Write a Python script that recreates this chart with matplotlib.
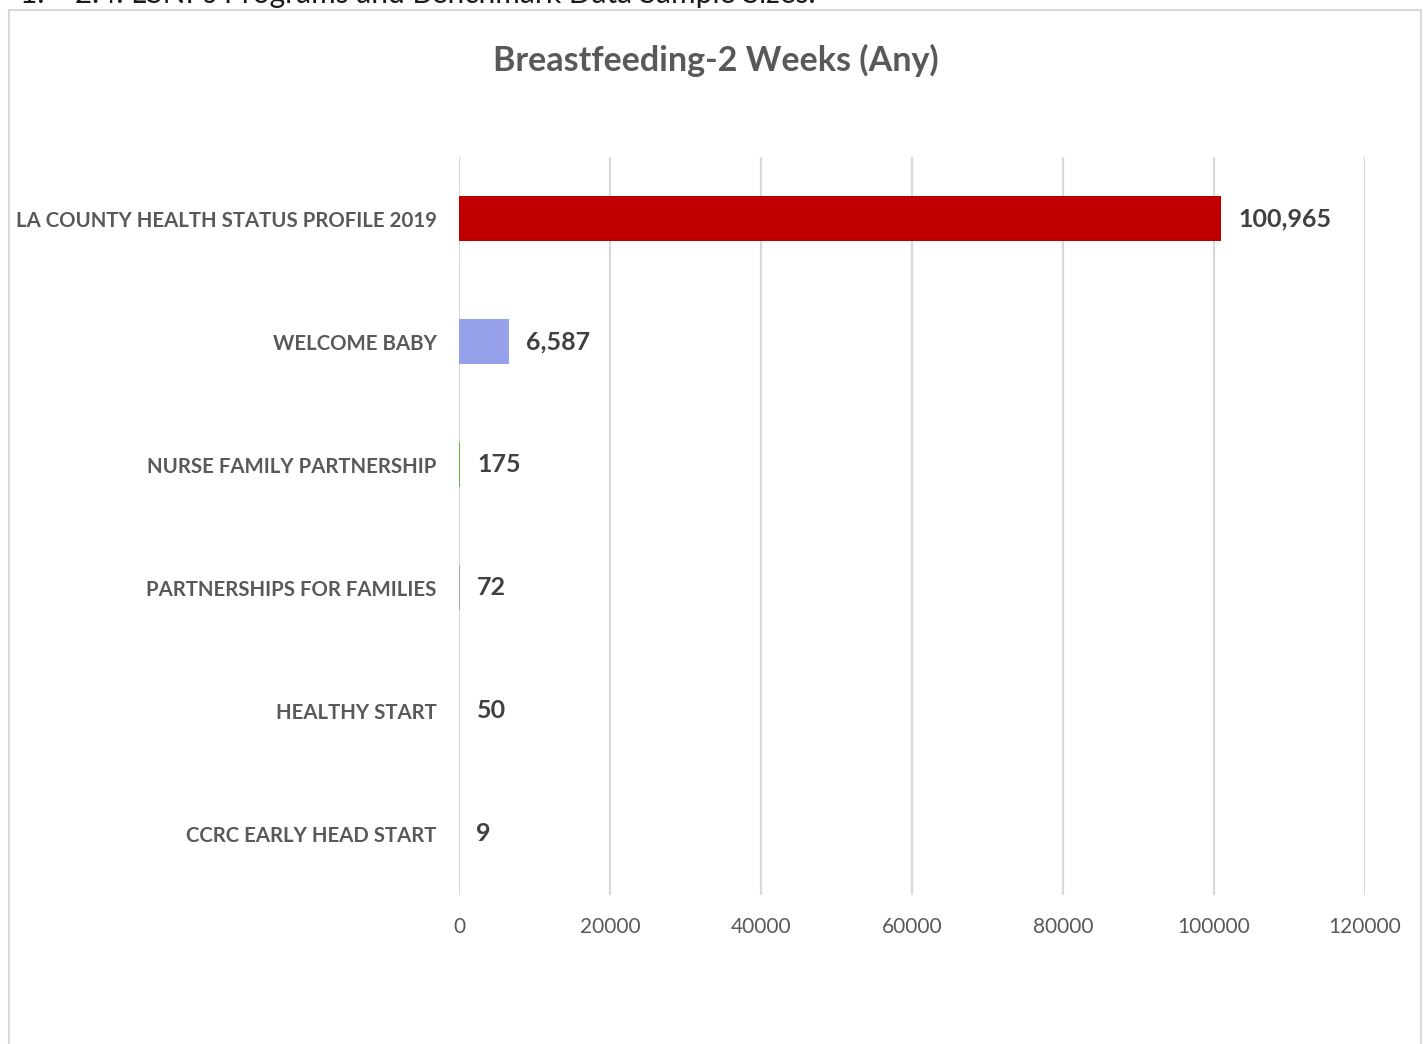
import matplotlib.pyplot as plt
from matplotlib.patches import Rectangle

categories = ["LA COUNTY HEALTH STATUS PROFILE 2019", "WELCOME BABY",
              "NURSE FAMILY PARTNERSHIP", "PARTNERSHIPS FOR FAMILIES",
              "HEALTHY START", "CCRC EARLY HEAD START"]
values = [100965, 6587, 175, 72, 50, 9]
bar_colors = ["#C00000", "#97A0EA", "#70AD47", "#A5A5A5", "#FFC000", "#5B9BD5"]
xticks = [0, 20000, 40000, 60000, 80000, 100000, 120000]

plt.rcParams['font.family'] = ['Lato', 'DejaVu Sans']

fig = plt.figure(figsize=(14.23, 10.44), dpi=100)
ax = fig.add_axes([0.3226, 0.1427, 0.9592 - 0.3226, 0.8496 - 0.1427])

# chart frame (bottom runs off the page)
fig.patches.append(Rectangle((8.5 / 1423, -0.05), (1421 - 8.5) / 1423, 1.05 - 9.5 / 1044,
                             transform=fig.transFigure, fill=False,
                             edgecolor="#D9D9D9", linewidth=1.5))
# caption line of the page, cut by the top edge as in the source
fig.text(20 / 1423, 1 - 3 / 1044, "1.    2.4. LSNPs Programs and Benchmark Data Sample Sizes.",
         fontsize=21.5, color="#1A1A1A", va="baseline", ha="left")

y = list(range(len(categories)))
ax.barh(y, values, height=0.36, color=bar_colors, zorder=3)
for yi, v in zip(y, values):
    ax.text(v + 2300, yi, f"{v:,}", va="center", ha="left",
            fontsize=18, fontweight="bold", color="#404040")

ax.set_ylim(len(categories) - 0.5, -0.5)
ax.set_xlim(0, 120000)
ax.set_yticks(y)
ax.set_yticklabels(categories, fontsize=14.7, fontweight="bold", color="#595959")
ax.set_xticks(xticks)
ax.set_xticklabels([str(t) for t in xticks], fontsize=15, color="#595959")
ax.tick_params(axis="both", length=0)
ax.tick_params(axis="y", pad=16)
ax.tick_params(axis="x", pad=16)
ax.grid(axis="x", color="#D9D9D9", linewidth=1.6, zorder=0)
for s in ax.spines.values():
    s.set_visible(False)

fig.text(716 / 1423, 1 - 60 / 1044, "Breastfeeding-2 Weeks (Any)", ha="center", va="center",
         fontsize=24.5, fontweight="bold", color="#595959")

fig.savefig("out.png", dpi=100)
